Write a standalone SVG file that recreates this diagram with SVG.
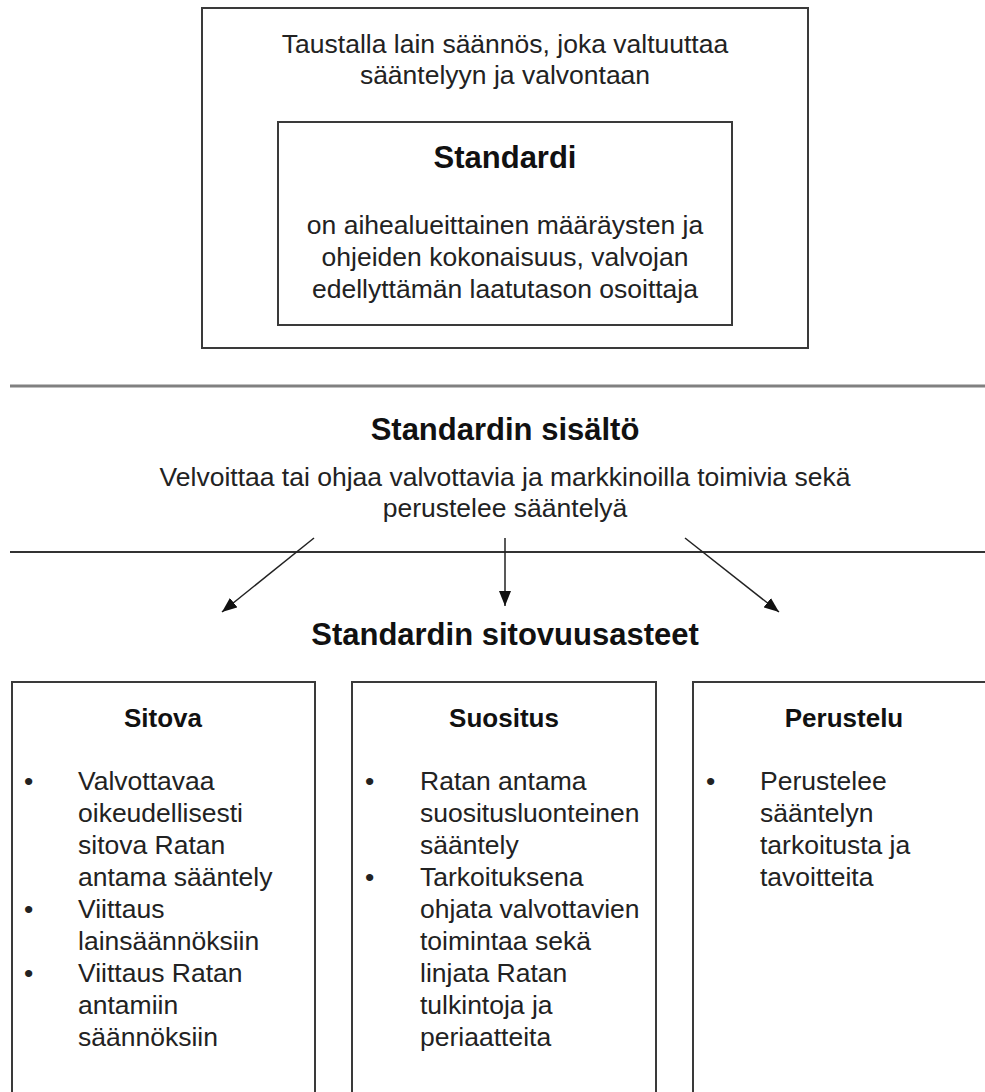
<svg xmlns="http://www.w3.org/2000/svg" width="985" height="1092" viewBox="0 0 985 1092">
<defs>
<style>
text{font-family:"Liberation Sans",Arial,sans-serif;}
.body{font-size:26.5px;fill:#222;}
.c{text-anchor:middle;}
.h1{font-size:31px;font-weight:bold;fill:#111;text-anchor:middle;}
.h2{font-size:26px;font-weight:bold;fill:#111;text-anchor:middle;}
.box{fill:#fff;stroke:#3a3a3a;stroke-width:2;}
.conn{stroke:#222;stroke-width:1.5;fill:none;marker-end:url(#ah);}
</style>
<marker id="ah" viewBox="0 0 15 12" refX="15" refY="6" markerWidth="15" markerHeight="12" markerUnits="userSpaceOnUse" orient="auto">
<path d="M0,0 L15,6 L0,12 z" fill="#111"/>
</marker>
</defs>
<rect width="985" height="1092" fill="#fff"/>

<g id="outer-box">
<rect class="box" x="202" y="8" width="606" height="340" stroke="#555"/>
<text class="body c" x="505" y="53">Taustalla lain säännös, joka valtuuttaa</text>
<text class="body c" x="505" y="84">sääntelyyn ja valvontaan</text>
</g>

<g id="standardi">
<rect class="box" x="278" y="122" width="454" height="203"/>
<text class="h1" x="505" y="168">Standardi</text>
<text class="body c" x="505" y="234">on aihealueittainen määräysten ja</text>
<text class="body c" x="505" y="266">ohjeiden kokonaisuus, valvojan</text>
<text class="body c" x="505" y="298">edellyttämän laatutason osoittaja</text>
</g>

<g id="dividers">
<line x1="10" y1="386" x2="985" y2="386" stroke="#808080" stroke-width="3"/>
<line x1="10" y1="552" x2="985" y2="552" stroke="#333" stroke-width="2"/>
</g>

<g id="sisalto">
<text class="h1" x="505" y="440">Standardin sisältö</text>
<text class="body c" x="505" y="486">Velvoittaa tai ohjaa valvottavia ja markkinoilla toimivia sekä</text>
<text class="body c" x="505" y="517">perustelee sääntelyä</text>
</g>

<g id="connectors">
<line class="conn" x1="314" y1="538" x2="222" y2="612"/>
<line class="conn" x1="505" y1="538" x2="505" y2="606"/>
<line class="conn" x1="685" y1="538" x2="779" y2="612"/>
</g>

<g id="sitovuusasteet">
<text class="h1" x="505" y="645">Standardin sitovuusasteet</text>
</g>

<g id="box-sitova">
<rect class="box" x="12" y="682" width="303" height="430"/>
<text class="h2" x="163" y="727">Sitova</text>
<g class="body">
<text x="24" y="790">•</text>
<text x="78" y="790">Valvottavaa</text>
<text x="78" y="822">oikeudellisesti</text>
<text x="78" y="854">sitova Ratan</text>
<text x="78" y="886">antama sääntely</text>
<text x="24" y="918">•</text>
<text x="78" y="918">Viittaus</text>
<text x="78" y="950">lainsäännöksiin</text>
<text x="24" y="982">•</text>
<text x="78" y="982">Viittaus Ratan</text>
<text x="78" y="1014">antamiin</text>
<text x="78" y="1046">säännöksiin</text>
</g>
</g>

<g id="box-suositus">
<rect class="box" x="352" y="682" width="304" height="430"/>
<text class="h2" x="504" y="727">Suositus</text>
<g class="body">
<text x="365" y="790">•</text>
<text x="420" y="790">Ratan antama</text>
<text x="420" y="822">suositusluonteinen</text>
<text x="420" y="854">sääntely</text>
<text x="365" y="886">•</text>
<text x="420" y="886">Tarkoituksena</text>
<text x="420" y="918">ohjata valvottavien</text>
<text x="420" y="950">toimintaa sekä</text>
<text x="420" y="982">linjata Ratan</text>
<text x="420" y="1014">tulkintoja ja</text>
<text x="420" y="1046">periaatteita</text>
</g>
</g>

<g id="box-perustelu">
<rect class="box" x="693" y="682" width="302" height="430"/>
<text class="h2" x="844" y="727">Perustelu</text>
<g class="body">
<text x="706" y="790">•</text>
<text x="760" y="790">Perustelee</text>
<text x="760" y="822">sääntelyn</text>
<text x="760" y="854">tarkoitusta ja</text>
<text x="760" y="886">tavoitteita</text>
</g>
</g>
</svg>
